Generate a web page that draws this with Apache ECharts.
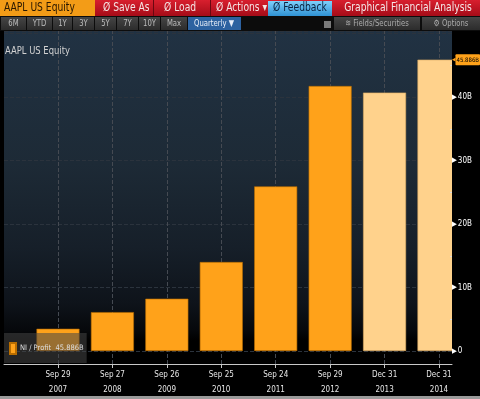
<!DOCTYPE html>
<html>
<head>
<meta charset="utf-8">
<script src="https://cdn.jsdelivr.net/npm/echarts@6/dist/echarts.min.js"></script>
<style>
html, body { margin: 0; padding: 0; background: #000; }
#chart { width: 480px; height: 399px; }
</style>
</head>
<body>
<div id="chart"></div>
<script>
// fiscal period end dates, two-line labels
var periodDates = ['Sep 29', 'Sep 27', 'Sep 26', 'Sep 25', 'Sep 24', 'Sep 29', 'Dec 31', 'Dec 31'];
var periodYears = ['2007', '2008', '2009', '2010', '2011', '2012', '2013', '2014'];
// NI / Profit, billions USD
var netIncome = [3.496, 6.119, 8.235, 14.013, 25.922, 41.733, 40.7, 45.886];
var isEstimate = [false, false, false, false, false, false, true, true];
var yTicks = [0, 10, 20, 30, 40];
var yMinorTicks = [5, 15, 25, 35, 45];
var rangeButtons = ['6M', 'YTD', '1Y', '3Y', '5Y', '7Y', '10Y', 'Max'];

var FONT = "'DejaVu Sans Condensed', 'Liberation Sans Narrow', sans-serif";
var lastValue = netIncome[netIncome.length - 1];
var catIdx = periodYears.map(function (y, i) { return i; });
var Y_MIN = -2.05, Y_MAX = 50.4;

var myChart = echarts.init(document.getElementById('chart'));

// toolbar pieces (chrome, not data)
var graphics = [];
function box(x, y, w, h, fill, z) {
    graphics.push({ type: 'rect', silent: true, z: z || 10, shape: { x: x, y: y, width: w, height: h }, style: { fill: fill } });
}
function label(x, y, text, fill, size, align, sx) {
    graphics.push({ type: 'text', silent: true, z: 11, x: x, y: y, scaleX: sx || 0.85,
        style: { text: text, fill: fill, font: size + 'px ' + FONT, textAlign: align || 'left', textVerticalAlign: 'middle' } });
}
var redGrad = new echarts.graphic.LinearGradient(0, 0, 0, 1, [{ offset: 0, color: '#d81f2e' }, { offset: 1, color: '#a50c18' }]);
var blueGrad = new echarts.graphic.LinearGradient(0, 0, 0, 1, [{ offset: 0, color: '#7fd0fa' }, { offset: 1, color: '#2f92d4' }]);
var greyGrad = new echarts.graphic.LinearGradient(0, 0, 0, 1, [{ offset: 0, color: '#454545' }, { offset: 1, color: '#2c2c2c' }]);

// row 1
box(0, 0, 480, 16, redGrad);
box(0, 0, 95, 16, '#f39c17');
label(4, 8, 'AAPL US Equity', '#2a1800', 12);
box(153, 0, 1, 16, '#6a0710');
box(210, 0, 1, 16, '#6a0710');
label(103, 8, 'Ø Save As', '#f5e4e4', 12);
label(164, 8, 'Ø Load', '#f5e4e4', 12);
label(216, 8, 'Ø Actions ▾', '#f5e4e4', 12);
box(268, 1, 64, 15, blueGrad);
label(273, 8, 'Ø Feedback', '#0a2340', 12);
label(408, 8, 'Graphical Financial Analysis', '#f6e8e8', 12, 'center');

// row 2
box(0, 16, 480, 15, '#0c0c0c');
var bx = [1, 27, 53, 73, 95, 117, 139, 161];
var bw = [25, 25, 19, 21, 21, 21, 21, 26];
rangeButtons.forEach(function (t, i) {
    box(bx[i], 17, bw[i], 13, greyGrad);
    label(bx[i] + bw[i] / 2, 24, t, '#bcbcbc', 9, 'center');
});
box(188, 17, 53, 13, '#2d62a0');
label(214, 24, 'Quarterly ▼', '#e8eef8', 9, 'center');
box(324, 21, 7, 7, '#7a7a7a');
box(334, 17, 86, 13, greyGrad);
label(377, 24, '≋ Fields/Securities', '#aaaaaa', 9, 'center');
box(422, 17, 58, 13, greyGrad);
label(451, 24, '⚙ Options', '#aaaaaa', 9, 'center');

// chart title, right axis strip (covers bar overflow), bottom strip
label(5, 51, 'AAPL US Equity', '#d2d2d2', 11);
box(452, 31, 28, 334, '#000', 3);
box(0, 396, 480, 3, '#9a9a9a');

var option = {
    backgroundColor: '#000',
    animation: false,
    textStyle: { fontFamily: FONT },
    grid: {
        left: 4, right: 28, top: 31, bottom: 35,
        outerBoundsMode: 'none',
        containLabel: false,
        show: true, borderWidth: 0,
        backgroundColor: new echarts.graphic.LinearGradient(0, 0, 0, 1, [
            { offset: 0, color: '#213243' },
            { offset: 0.4, color: '#1d2a36' },
            { offset: 0.65, color: '#161f29' },
            { offset: 0.82, color: '#0e131a' },
            { offset: 0.9, color: '#06080b' },
            { offset: 0.93, color: '#000' },
            { offset: 1, color: '#000' }
        ])
    },
    legend: {
        left: 4, top: 333, z: 6,
        data: ['NI / Profit'],
        icon: 'rect', itemWidth: 6, itemHeight: 11, itemGap: 2,
        backgroundColor: 'rgba(70,70,70,0.55)',
        padding: [9, 3, 8, 5],
        formatter: function (n) { return n + '  ' + lastValue.toFixed(3) + 'B'; },
        textStyle: { color: '#dedede', fontSize: 7.5, fontFamily: FONT, padding: [0, 0, 0, -1] }
    },
    xAxis: {
        type: 'value',
        min: -0.992, max: 7.239,
        z: 5,
        axisLine: { show: true, onZero: false, lineStyle: { color: '#c8c8c8', width: 1 } },
        axisTick: { show: true, customValues: catIdx, length: 4, lineStyle: { color: '#c8c8c8' } },
        axisLabel: {
            customValues: catIdx,
            color: '#e6e6e6', fontSize: 8, lineHeight: 15, margin: 3, fontFamily: FONT,
            formatter: function (v) { var i = Math.round(v); return periodDates[i] + '\n' + periodYears[i]; }
        },
        splitLine: { show: false }
    },
    yAxis: [{
        // grid lines only, behind the bars
        type: 'value', position: 'right',
        min: Y_MIN, max: Y_MAX,
        axisLine: { show: false }, axisTick: { show: false }, axisLabel: { show: false },
        splitLine: { show: true, lineStyle: { color: '#2b333d', type: 'dashed', width: 1 } }
    }, {
        // tick labels, above the strip
        type: 'value', position: 'right',
        min: Y_MIN, max: Y_MAX,
        z: 5,
        axisLine: { show: false }, splitLine: { show: false },
        axisTick: { show: true, customValues: yMinorTicks, length: 2, inside: true, lineStyle: { color: '#dddddd' } },
        axisLabel: {
            customValues: yTicks, margin: 0, fontFamily: FONT,
            formatter: function (v) { return '{p|▶}{t|' + (v === 0 ? '0' : v + 'B') + '}'; },
            rich: {
                p: { color: '#ffffff', fontSize: 7, padding: [0, 1, 0, 0] },
                t: { color: '#ffffff', fontSize: 8, fontFamily: FONT }
            }
        }
    }, {
        // last value tag
        type: 'value', position: 'right',
        min: Y_MIN, max: Y_MAX,
        z: 5,
        axisLine: { show: false }, axisTick: { show: false }, splitLine: { show: false },
        axisLabel: {
            customValues: [lastValue], margin: 0, fontFamily: FONT,
            formatter: function (v) { return '{a|◀}{b|' + v.toFixed(3) + 'B}'; },
            rich: {
                a: { color: '#ffa21a', fontSize: 5 },
                b: { color: '#000', backgroundColor: '#ffa21a', fontSize: 6, padding: [3, 1, 2, 1], borderRadius: 1, fontFamily: FONT }
            }
        }
    }],
    series: [{
        name: 'NI / Profit',
        type: 'bar',
        barWidth: 43,
        itemStyle: { color: '#ffa21a', borderColor: '#b86d00', borderWidth: 0.6 },
        data: netIncome.map(function (v, i) {
            return { value: [i, v], itemStyle: { color: isEstimate[i] ? '#ffd28c' : '#ffa21a', borderColor: isEstimate[i] ? '#d8a860' : '#b86d00' } };
        }),
        markLine: {
            silent: true, symbol: 'none', z: 1,
            label: { show: false },
            lineStyle: { color: '#454a52', type: 'dashed', width: 1 },
            data: catIdx.map(function (i) { return { xAxis: i }; })
        }
    }],
    graphic: graphics
};
myChart.setOption(option);
</script>
</body>
</html>
